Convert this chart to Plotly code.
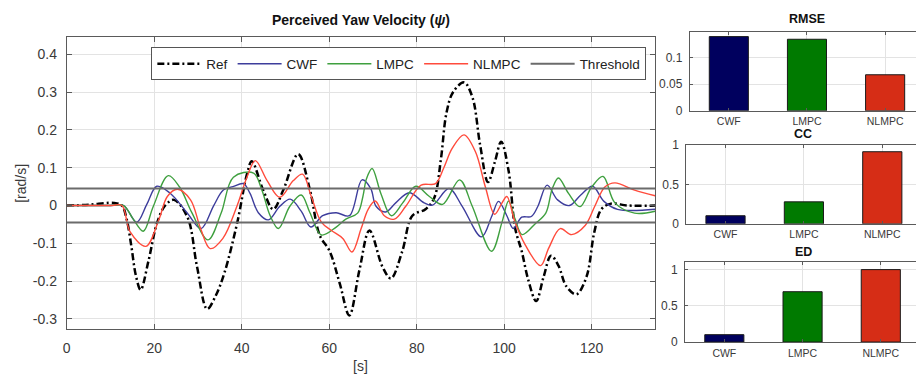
import plotly.graph_objects as go

# ---------------- data ----------------
ref_t = [0, 5, 10.8, 12.6, 13.7, 14.8, 15.8, 16.9, 18.7, 20.7, 22.5, 24.5, 27.6, 29.8, 32.1, 34, 36,
         39.0, 41.2, 42.3, 44.9, 47.2, 49.5, 52.9, 55.6, 57.8, 60.1, 62.4, 64.6, 66.9, 69.2, 72.2,
         74.1, 76.7, 79.0, 82.0, 84.0, 85.5, 86.8, 88.3, 90.8, 92.7, 94.5, 96.3, 97.9, 99.3, 101.0,
         102.5, 104.0, 105.5, 107.3, 109.0, 110.7, 112.4, 114.2, 116.5, 118.8, 120.6, 122.2, 124.4,
         128.2, 134.5]
ref_v = [0.0, 0.002, 0.007, 0.0, -0.036, -0.11, -0.185, -0.223, -0.146, -0.044, 0.0, 0.015, -0.031,
         -0.163, -0.274, -0.24, -0.18, -0.044, 0.083, 0.117, 0.041, -0.010, 0.041, 0.136, 0.041,
         -0.078, -0.121, -0.206, -0.291, -0.171, -0.066, -0.163, -0.193, -0.121, -0.027, -0.010,
         0.02, 0.12, 0.245, 0.30, 0.326, 0.288, 0.160, 0.062, 0.117, 0.169, 0.092, -0.06, -0.121,
         -0.197, -0.253, -0.189, -0.133, -0.159, -0.214, -0.235, -0.189, -0.070, -0.010, 0.005,
         0.0, 0.0]

cwf_t = [0, 10, 13, 16.0, 18.3, 20.6, 23.7, 27.5, 30.7, 33.6, 35.8, 38, 40.4, 41.9, 43.8, 46.1,
         48.7, 51.1, 53.6, 55.8, 58.5, 61.6, 64.6, 67.5, 69.5, 70.7, 72.9, 75.2, 78.3, 81.7, 83.6,
         87.4, 90.4, 94.8, 97.2, 98.7, 100.6, 102.1, 104.0, 106.2, 107.7, 109.8, 112.2, 114.9,
         117.5, 120.2, 122.8, 125.9, 134.5]
cwf_v = [0, 0, 0, -0.044, 0.003, 0.051, 0.032, -0.019, -0.061, 0.0, 0.041, 0.05, 0.058, 0.032,
         -0.019, -0.038, -0.002, 0.017, -0.015, -0.057, -0.027, -0.019, -0.027, 0.068, 0.045,
         -0.002, -0.017, 0.007, 0.034, 0.007, 0.001, 0.045, -0.002, -0.083, -0.027, 0.011, -0.027,
         -0.061, -0.031, -0.029, -0.002, 0.054, 0.015, 0.0, 0.028, 0.051, 0.011, -0.010, -0.010]

lmpc_t = [0, 10, 13, 15.2, 17.5, 19.8, 23.2, 25.8, 28.6, 32.3, 35.3, 38.1, 42.7, 44.6, 46.5, 48.4,
          51.0, 53.6, 55.6, 58.2, 61.6, 63.8, 66.5, 67.7, 68.5, 69.8, 71.8, 74.2, 76.8, 79.8, 82.9,
          85.9, 89.8, 92.7, 97.1, 99.5, 101.0, 102.5, 104.1, 107.1, 109.5, 111.0, 112.4, 114.7,
          117.3, 120.0, 122.6, 125.3, 129.8, 134.5]
lmpc_v = [0, 0, 0, -0.036, -0.068, -0.002, 0.079, 0.049, -0.019, -0.091, -0.02, 0.075, 0.086,
          0.041, -0.027, -0.061, -0.002, 0.028, -0.019, -0.078, -0.057, -0.036, -0.02, 0.024,
          0.07, 0.098, 0.032, -0.027, 0.007, 0.051, 0.024, 0.003, 0.068, -0.002, -0.121, -0.044,
          0.012, -0.036, -0.077, -0.048, -0.02, 0.045, 0.073, 0.032, -0.003, 0.049, 0.077, 0.007,
          -0.020, -0.015]

nlmpc_t = [0, 10, 12.6, 14.5, 18.1, 21.1, 23.0, 25.3, 28.3, 30.6, 32.8, 35.7, 38.9, 41.2, 43.1,
           45.8, 48.7, 51.8, 53.9, 55.9, 58.2, 60.5, 63.1, 65.2, 67.3, 68.9, 70.5, 72.6, 74.9, 77.5,
           81.0, 84.3, 86.2, 88.1, 90.8, 93.4, 95.7, 97.8, 99.5, 100.6, 102.5, 104.8, 108.3, 110.2,
           112.8, 115.4, 118.5, 120.7, 123.0, 125.3, 129.8, 134.5]
nlmpc_v = [0, 0, 0, -0.07, -0.108, -0.036, 0.024, 0.043, 0.015, -0.061, -0.114, -0.087, -0.002,
           0.075, 0.119, 0.066, 0.022, 0.066, 0.083, 0.024, -0.044, -0.066, -0.087, -0.123, -0.061,
           -0.01, 0.012, -0.027, -0.036, -0.002, 0.054, 0.058, 0.100, 0.151, 0.187, 0.143, 0.049,
           -0.023, 0.007, 0.024, -0.045, -0.104, -0.159, -0.112, -0.061, -0.077, -0.053, -0.002,
           0.049, 0.060, 0.041, 0.026]

threshold = 0.045
t_end = 134.5

categories = ["CWF", "LMPC", "NLMPC"]
rmse = [0.139, 0.134, 0.0675]
cc = [0.103, 0.28, 0.918]
ed = [0.102, 0.695, 1.0]

x_ticks = [0, 20, 40, 60, 80, 100, 120]
y_ticks = [-0.3, -0.2, -0.1, 0, 0.1, 0.2, 0.3, 0.4]

# ---------------- styling ----------------
W, H = 916, 385
FONT = "Liberation Sans, Arial, sans-serif"
TXT = "#3a3a3a"
AX = "#5a5a5a"
GRID = "#e3e3e3"
c_cwf = "#3d3d9c"
c_lmpc = "#3fa03f"
c_nlmpc = "#ff4b3c"
c_thr = "#6b6b6b"
bar_colors = ["#00005e", "#007a00", "#d62d16"]


def px_x(p):
    return p / W


def px_y(p):
    return 1 - p / H


fig = go.Figure()

fig.add_trace(go.Scatter(x=ref_t, y=ref_v, name="Ref", mode="lines",
                         line=dict(color="black", width=2.5, dash="7px,3px,2px,3px", shape="spline")))
fig.add_trace(go.Scatter(x=cwf_t, y=cwf_v, name="CWF", mode="lines",
                         line=dict(color=c_cwf, width=1.4, shape="spline")))
fig.add_trace(go.Scatter(x=lmpc_t, y=lmpc_v, name="LMPC", mode="lines",
                         line=dict(color=c_lmpc, width=1.4, shape="spline")))
fig.add_trace(go.Scatter(x=nlmpc_t, y=nlmpc_v, name="NLMPC", mode="lines",
                         line=dict(color=c_nlmpc, width=1.4, shape="spline")))
fig.add_trace(go.Scatter(x=[0, t_end, None, 0, t_end],
                         y=[threshold, threshold, None, -threshold, -threshold],
                         name="Threshold", mode="lines",
                         line=dict(color=c_thr, width=2)))

for i, (vals, ax) in enumerate([(rmse, "2"), (cc, "3"), (ed, "4")]):
    fig.add_trace(go.Bar(x=[0, 1, 2], y=vals, width=0.5, xaxis="x" + ax, yaxis="y" + ax,
                         marker=dict(color=bar_colors, line=dict(color="#1a1a1a", width=1)),
                         showlegend=False))

axis_common = dict(showline=True, linecolor=AX, linewidth=1, ticks="inside", ticklen=5,
                   tickcolor=AX, showgrid=True, gridcolor=GRID, gridwidth=1, zeroline=False,
                   tickfont=dict(family=FONT, size=14, color=TXT))

layout = dict(
    width=W, height=H, margin=dict(l=0, r=0, t=0, b=0),
    paper_bgcolor="white", plot_bgcolor="white",
    font=dict(family=FONT, color=TXT),
    showlegend=True,
    legend=dict(orientation="h", x=px_x(148), y=px_y(42), xanchor="left", yanchor="top",
                bgcolor="white", bordercolor="#555555", borderwidth=1,
                font=dict(family=FONT, size=13.5, color="#222222"),
                tracegroupgap=0, itemwidth=44),
    xaxis=dict(axis_common, domain=[px_x(63), px_x(654)], range=[0, t_end],
               tickvals=x_ticks, mirror="allticks", anchor="y", ticklabelstandoff=6),
    yaxis=dict(axis_common, domain=[px_y(334), px_y(31)], range=[-0.3265, 0.4465],
               tickvals=y_ticks, ticktext=["-0.3", "-0.2", "-0.1", "0", "0.1", "0.2", "0.3", "0.4"],
               mirror="allticks", anchor="x", ticklabelstandoff=6),
)

bar_specs = [
    ("2", 688.75, 2.395, 107.7, 26, [0, 0.1475], [0, 0.05, 0.1], ["0", "0.05", "0.1"]),
    ("3", 685.3, 2.43, 225, 143.5, [0, 1.0], [0, 0.5, 1], ["0", "0.5", "1"]),
    ("4", 684.2, 2.45, 347.7, 265, [0, 1.1], [0, 0.5, 1], ["0", "0.5", "1"]),
]
for ax, left, xr, bot, top, yr, yt, ytt in bar_specs:
    layout["xaxis" + ax] = dict(axis_common, domain=[px_x(left), 1], range=[-0.5, xr],
                                tickvals=[0, 1, 2], ticktext=categories, anchor="y" + ax,
                                mirror="ticks", ticklen=3,
                                tickfont=dict(family=FONT, size=10.5, color=TXT),
                                ticklabelstandoff=1)
    layout["yaxis" + ax] = dict(axis_common, domain=[px_y(bot), px_y(top)], range=yr,
                                tickvals=yt, ticktext=ytt, anchor="x" + ax, ticklen=3,
                                tickfont=dict(family=FONT, size=12, color=TXT),
                                ticklabelstandoff=4)

fig.update_layout(**layout)

ann = [
    dict(text="<b>Perceived Yaw Velocity (<i>ψ</i>)</b>", x=px_x(358.5), y=px_y(13),
         font=dict(size=14, color="#111111")),
    dict(text="[s]", x=px_x(358.5), y=px_y(373), font=dict(size=14, color=TXT)),
    dict(text="[rad/s]", x=px_x(17), y=px_y(182.5), textangle=-90, font=dict(size=14, color=TXT)),
    dict(text="<b>RMSE</b>", x=px_x(806.5), y=px_y(12), font=dict(size=12.5, color="#111111")),
    dict(text="<b>CC</b>", x=px_x(803), y=px_y(132), font=dict(size=12.5, color="#111111")),
    dict(text="<b>ED</b>", x=px_x(803), y=px_y(254), font=dict(size=12.5, color="#111111")),
]
for a in ann:
    fig.add_annotation(xref="paper", yref="paper", showarrow=False, xanchor="center",
                       yanchor="middle", font_family=FONT, **{k: v for k, v in a.items()})

fig.write_html("out.html")
